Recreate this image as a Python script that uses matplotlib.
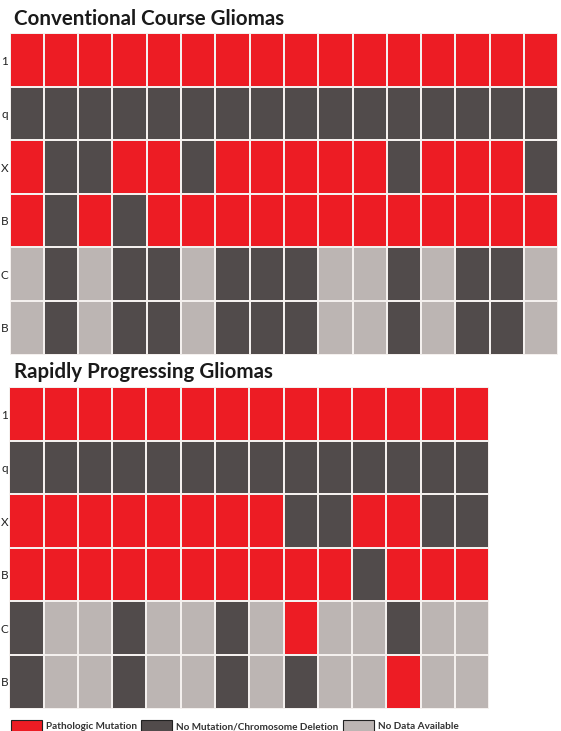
import numpy as np
import matplotlib
matplotlib.use("Agg")
import matplotlib.pyplot as plt
from matplotlib.colors import ListedColormap
from matplotlib.patches import Patch

# status codes: 0 = no mutation / deletion, 1 = pathologic mutation, 2 = no data
row_labels = ["1", "q", "X", "B", "C", "B"]

conventional = np.array([
    [1, 1, 1, 1, 1, 1, 1, 1, 1, 1, 1, 1, 1, 1, 1, 1],
    [0, 0, 0, 0, 0, 0, 0, 0, 0, 0, 0, 0, 0, 0, 0, 0],
    [1, 0, 0, 1, 1, 0, 1, 1, 1, 1, 1, 0, 1, 1, 1, 0],
    [1, 0, 1, 0, 1, 1, 1, 1, 1, 1, 1, 1, 1, 1, 1, 1],
    [2, 0, 2, 0, 0, 2, 0, 0, 0, 2, 2, 0, 2, 0, 0, 2],
    [2, 0, 2, 0, 0, 2, 0, 0, 0, 2, 2, 0, 2, 0, 0, 2],
])

rapid = np.array([
    [1, 1, 1, 1, 1, 1, 1, 1, 1, 1, 1, 1, 1, 1],
    [0, 0, 0, 0, 0, 0, 0, 0, 0, 0, 0, 0, 0, 0],
    [1, 1, 1, 1, 1, 1, 1, 1, 0, 0, 1, 1, 0, 0],
    [1, 1, 1, 1, 1, 1, 1, 1, 1, 1, 0, 1, 1, 1],
    [0, 2, 2, 0, 2, 2, 0, 2, 1, 2, 2, 0, 2, 2],
    [0, 2, 2, 0, 2, 2, 0, 2, 0, 2, 2, 1, 2, 2],
])

status_labels = ["No Mutation/Chromosome Deletion", "Pathologic Mutation", "No Data Available"]
status_colors = ["#514b4b", "#ed1c24", "#bcb5b3"]
cmap = ListedColormap(status_colors)

W, H = 561, 731
fig = plt.figure(figsize=(W / 100, H / 100), dpi=100)


def px_axes(left, top, right, bottom):
    return fig.add_axes([left / W, 1 - bottom / H, (right - left) / W, (bottom - top) / H])


def draw_grid(ax, data):
    ax.pcolormesh(data, cmap=cmap, vmin=-0.5, vmax=2.5,
                  edgecolors="#f4f0ee", linewidth=1.3)
    ax.set_xlim(0, data.shape[1])
    ax.set_ylim(data.shape[0], 0)
    ax.set_xticks([])
    ax.set_yticks(np.arange(data.shape[0]) + 0.5)
    ax.set_yticklabels(row_labels, fontsize=8.5, color="#222222", family="Lato")
    ax.tick_params(axis="y", length=0, pad=0.8)
    for s in ax.spines.values():
        s.set_visible(False)


ax1 = px_axes(9.5, 33.3, 558.3, 354.5)
draw_grid(ax1, conventional)
ax2 = px_axes(9.2, 387.3, 489.4, 708.5)
draw_grid(ax2, rapid)

fig.text(14 / W, 1 - 25 / H, "Conventional Course Gliomas", fontsize=14.8,
         fontweight="bold", family="Lato", color="#1a1a1a", va="baseline")
fig.text(14 / W, 1 - 378 / H, "Rapidly Progressing Gliomas", fontsize=14.8,
         fontweight="bold", family="Lato", color="#1a1a1a", va="baseline")

# legend along the bottom edge
order = [1, 0, 2]
handles = [Patch(facecolor=status_colors[i], edgecolor="#222222", linewidth=0.8)
           for i in order]
fig.legend(handles, [status_labels[i] for i in order], ncol=3, frameon=False,
           loc="lower left", bbox_to_anchor=(10.5 / W, -1 / H),
           prop={"family": "Lato", "weight": "bold", "size": 7.2},
           labelcolor="#333333", handlelength=3.1, handleheight=1.5,
           handletextpad=0.45, columnspacing=0.4, borderpad=0,
           borderaxespad=0)

fig.savefig("out.png", dpi=100)
